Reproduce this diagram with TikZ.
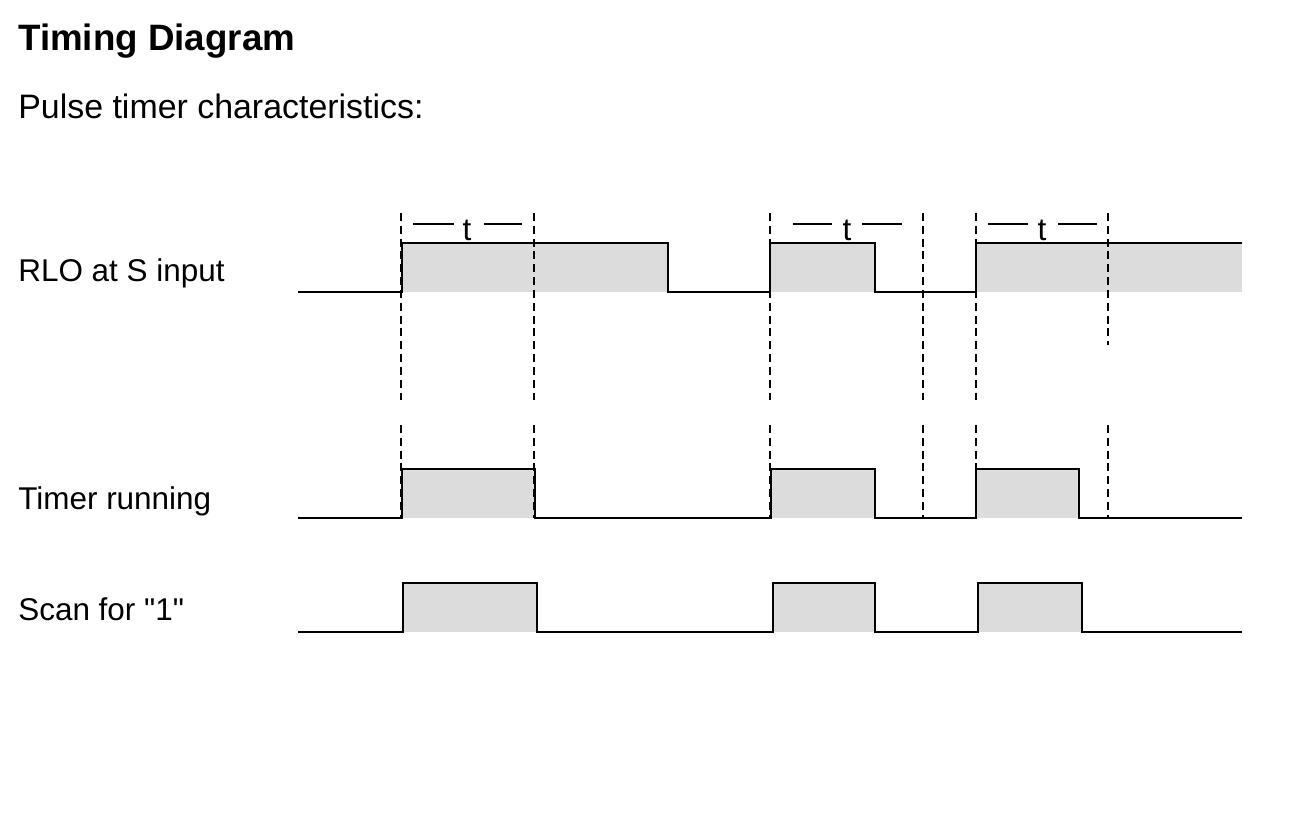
\documentclass[tikz,border=0pt]{standalone}
\usepackage{fontspec}
\setmainfont{Liberation Sans}[Ligatures=TeXOff]
\begin{document}
\begin{tikzpicture}[x=0.02cm,y=-0.02cm,
  sig/.style={line width=1.4pt,line join=miter},
  pulsefill/.style={fill=pulsegray,draw=none},
  guide/.style={line width=1.25pt,dash pattern=on 4.5pt off 2.8pt},
  tbar/.style={line width=1.3pt},
  lbl/.style={anchor=base west,inner sep=0pt,font=\fontsize{17.9pt}{20pt}\selectfont},
  tlbl/.style={anchor=base,inner sep=0pt,font=\fontsize{18pt}{20pt}\selectfont}]
\definecolor{pulsegray}{RGB}{220,220,220}
\useasboundingbox (0,0) rectangle (1297,833);
\fill[white] (0,0) rectangle (1297,833);
% titles
\node[anchor=base west,inner sep=0pt,font=\fontsize{20.9pt}{24pt}\selectfont\bfseries] (title) at (18,50) {Timing Diagram};
\node[anchor=base west,inner sep=0pt,font=\fontsize{19.3pt}{22pt}\selectfont] (sub) at (18,118) {Pulse timer characteristics:};
% labels
\node[lbl] (rlo) at (18,281) {RLO at S input};
\node[lbl] (trun) at (18,509) {Timer running};
\node[lbl] (scan) at (18,620) {Scan for "1"};
% fills
\path[pulsefill] (402,243) rectangle (668,292);
\path[pulsefill] (770,243) rectangle (875,292);
\path[pulsefill] (976,243) rectangle (1242,292);
\path[pulsefill] (402,469) rectangle (535,518);
\path[pulsefill] (771,469) rectangle (875,518);
\path[pulsefill] (976,469) rectangle (1079,518);
\path[pulsefill] (403,583) rectangle (537,632);
\path[pulsefill] (773,583) rectangle (875,632);
\path[pulsefill] (978,583) rectangle (1082,632);
% signals
\draw[sig] (298,292) -- (402,292) -- (402,243) -- (668,243) -- (668,292) -- (770,292) -- (770,243) -- (875,243) -- (875,292) -- (976,292) -- (976,243) -- (1242,243);
\draw[sig] (298,518) -- (402,518) -- (402,469) -- (535,469) -- (535,518) -- (771,518) -- (771,469) -- (875,469) -- (875,518) -- (976,518) -- (976,469) -- (1079,469) -- (1079,518) -- (1242,518);
\draw[sig] (298,632) -- (403,632) -- (403,583) -- (537,583) -- (537,632) -- (773,632) -- (773,583) -- (875,583) -- (875,632) -- (978,632) -- (978,583) -- (1082,583) -- (1082,632) -- (1242,632);
% guide lines
\foreach \gx in {401,534,770,923,976} {\draw[guide] (\gx,213) -- (\gx,400);}
\draw[guide] (1108,213) -- (1108,345);
\foreach \gx in {401,534,770,923,976,1108} {\draw[guide] (\gx,425) -- (\gx,518);}
% t markers
\draw[tbar] (413,224) -- (454,224);
\draw[tbar] (484,224) -- (522,224);
\node[tlbl] (t1) at (467,240) {t};
\draw[tbar] (793,224) -- (832,224);
\draw[tbar] (862,224) -- (902,224);
\node[tlbl] (t2) at (847,240) {t};
\draw[tbar] (988,224) -- (1028,224);
\draw[tbar] (1058,224) -- (1097,224);
\node[tlbl] (t3) at (1042,240) {t};
\end{tikzpicture}
\end{document}
